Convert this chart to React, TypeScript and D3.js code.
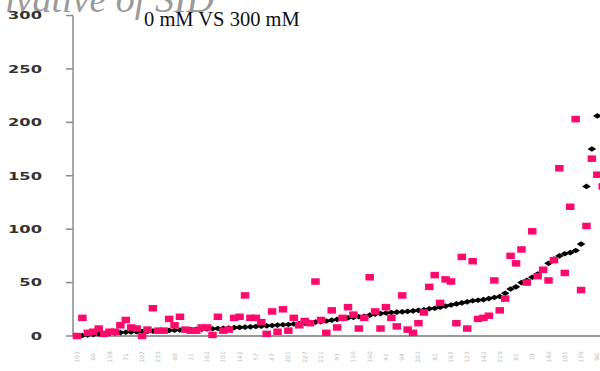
import React from "react";
import * as d3 from "d3";

const yTicks = [0, 50, 100, 150, 200, 250, 300];

const series0mM = [
  0, 0.5, 1, 1.5, 2, 2.3, 2.6, 3, 3.2, 3.5,
  3.8, 4, 4.2, 4.4, 4.6, 4.8, 5, 5.2, 5.4, 5.6,
  5.8, 6, 6.2, 6.4, 6.6, 6.8, 7, 7.2, 7.5, 7.8,
  8, 8.3, 8.6, 8.9, 9.2, 9.5, 9.8, 10.2, 10.5, 10.8,
  11.2, 11.6, 12, 12.5, 13, 13.5, 14, 14.8, 15.5, 16.5,
  17, 17.5, 18, 18.5, 19.5, 20.5, 21, 21.5, 22, 22.3,
  22.6, 23, 23.5, 24, 24.5, 25.5, 26, 27, 28, 29,
  30, 31, 32, 33, 33.5, 34, 35, 36, 37, 40,
  44, 46, 50, 52, 55, 58, 62, 68, 72, 75,
  77, 78, 80, 86, 140, 175, 206,
];

const series300mM = [
  0, 17, 3, 4, 7, 2, 4, 4, 10, 15,
  8, 7, 0, 6, 26, 5, 5, 16, 10, 18,
  6, 5, 5, 8, 8, 1, 18, 5, 6, 17,
  18, 38, 17, 17, 13, 2, 23, 4, 25, 5,
  17, 10, 14, 12, 51, 15, 3, 24, 8, 17,
  27, 20, 7, 17, 55, 23, 7, 27, 17, 9,
  38, 6, 3, 12, 22, 46, 57, 31, 53, 51,
  12, 74, 7, 70, 16, 17, 19, 52, 24, 35,
  75, 68, 81, 50, 98, 56, 62, 52, 71, 157,
  59, 121, 203, 43, 103, 166, 151, 140,
];

const xLabels = [
  "103", "66", "138", "71", "107", "233", "68", "11", "162", "101", "142",
  "57", "47", "201", "227", "211", "93", "136", "160", "41", "94",
  "203", "81", "167", "123", "142", "219", "81", "18", "146", "105", "176", "96",
];

const title = "0 mM VS 300 mM";
const topCaption = "Derivative of SID";

export default function App() {
  const W = 600;
  const H = 371;
  const n = series300mM.length;
  const x = d3.scaleLinear().domain([0, n - 1]).range([77, 77 + 5.42 * (n - 1)]);
  const y = d3.scaleLinear().domain([0, 300]).range([336, 15.5]);
  const diamond = d3.symbol(d3.symbolDiamond, 20)() as string;

  return (
    <svg
      width={W}
      height={H}
      style={{ position: "absolute", left: 0, top: 0, background: "#fff" }}
    >
      <text
        x={214}
        y={12}
        textAnchor="end"
        fontFamily="Liberation Serif"
        fontStyle="italic"
        fontSize={38}
        fill="#9a9a9a"
      >
        {topCaption}
      </text>
      <text x={144} y={26} fontFamily="Liberation Serif" fontSize={20.5} fill="#111">
        {title}
      </text>

      {/* y axis */}
      <line x1={73} x2={73} y1={y(300)} y2={y(0)} stroke="#8a8a8a" strokeWidth={1.5} />
      {yTicks.map((t) => (
        <g key={t}>
          <line x1={66} x2={73} y1={y(t)} y2={y(t)} stroke="#8a8a8a" strokeWidth={1.5} />
          <text
            transform={`translate(42,${y(t)}) scale(1.55,1)`}
            textAnchor="end"
            dominantBaseline="central"
            fontFamily="DejaVu Sans"
            fontWeight="bold"
            fontSize={10.5}
            fill="#333"
          >
            {t}
          </text>
        </g>
      ))}

      {/* x axis */}
      <line x1={73} x2={600} y1={y(0)} y2={y(0)} stroke="#999" strokeWidth={2} />
      {xLabels.map((l, k) => (
        <text
          key={k}
          transform={`translate(${x(k * 3) + 2},${357}) rotate(-90)`}
          textAnchor="middle"
          fontFamily="DejaVu Sans"
          fontSize={6}
          fill="#bdbdbd"
        >
          {l}
        </text>
      ))}

      {/* black diamonds */}
      {series0mM.map((v, i) => (
        <path
          key={"d" + i}
          d={diamond}
          transform={`translate(${x(i)},${y(v)}) scale(1.8,0.68)`}
          fill="#000"
        />
      ))}

      {/* pink squares */}
      {series300mM.map((v, i) => (
        <rect
          key={"s" + i}
          x={x(i) - 4.25}
          y={y(v) - 3.25}
          width={8.5}
          height={6.5}
          fill="#ff0a6c"
        />
      ))}
    </svg>
  );
}
